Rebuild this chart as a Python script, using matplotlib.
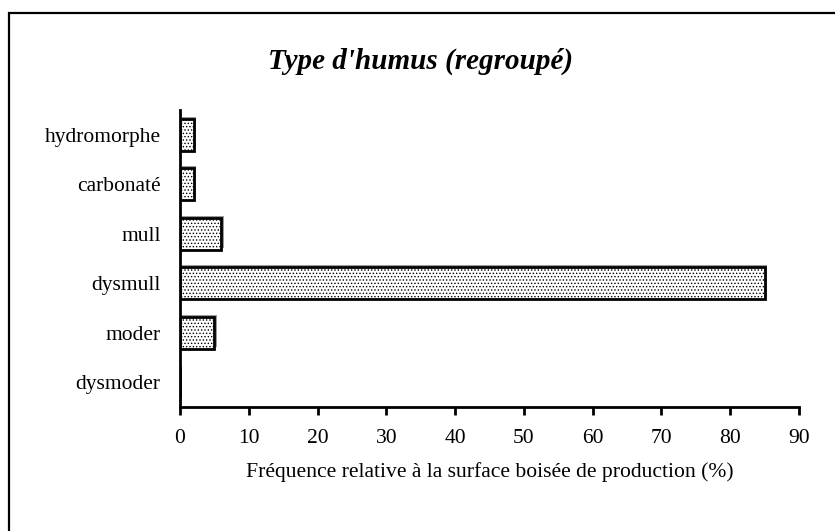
import numpy as np
import matplotlib as mpl
import matplotlib.pyplot as plt
from matplotlib.patches import Rectangle

mpl.rc('font', family='Liberation Serif')
plt.rcParams['hatch.color'] = '#555555'
plt.rcParams['hatch.linewidth'] = 0.6

categories = ['dysmoder', 'moder', 'dysmull', 'mull', 'carbonaté', 'hydromorphe']
values = [0, 5, 85, 6, 2, 2]
xticks = [0, 10, 20, 30, 40, 50, 60, 70, 80, 90]

fig = plt.figure(figsize=(8.35, 5.31), dpi=100)

# outer frame (right and bottom sides fall outside the picture)
fig.patches.append(Rectangle((8.5 / 835, -0.1), 1.1, 1.1 - 13.5 / 531,
                             transform=fig.transFigure, fill=False,
                             edgecolor='black', lw=1.6))

ax = fig.add_axes([180 / 835, 1 - 407 / 531, 619 / 835, 297 / 531])
y = np.arange(len(categories))
ax.barh(y + 0.04, values, left=0.35, height=0.65, color='#9a9a9a', lw=0)
ax.barh(y, values, height=0.65, color='white', edgecolor='black',
        hatch='.....', lw=2)

ax.set_xlim(0, 90)
ax.set_ylim(-0.5, len(categories) - 0.5)
ax.set_xticks(xticks)
ax.set_yticks(y)
ax.set_yticklabels(categories)
ax.tick_params('y', length=0, pad=14, labelsize=15.5)
ax.tick_params('x', direction='out', length=6, width=2, pad=10, labelsize=15.5)
for s in ['top', 'right']:
    ax.spines[s].set_visible(False)
ax.spines['left'].set_linewidth(2)
ax.spines['bottom'].set_linewidth(2)

ax.set_xlabel('Fréquence relative à la surface boisée de production (%)',
              fontsize=15.6, labelpad=10)
fig.text(421 / 835, 1 - 61 / 531, "Type d'humus (regroupé)", ha='center',
         va='center', fontsize=21, fontweight='bold', fontstyle='italic')

plt.savefig('out.png', dpi=100)
